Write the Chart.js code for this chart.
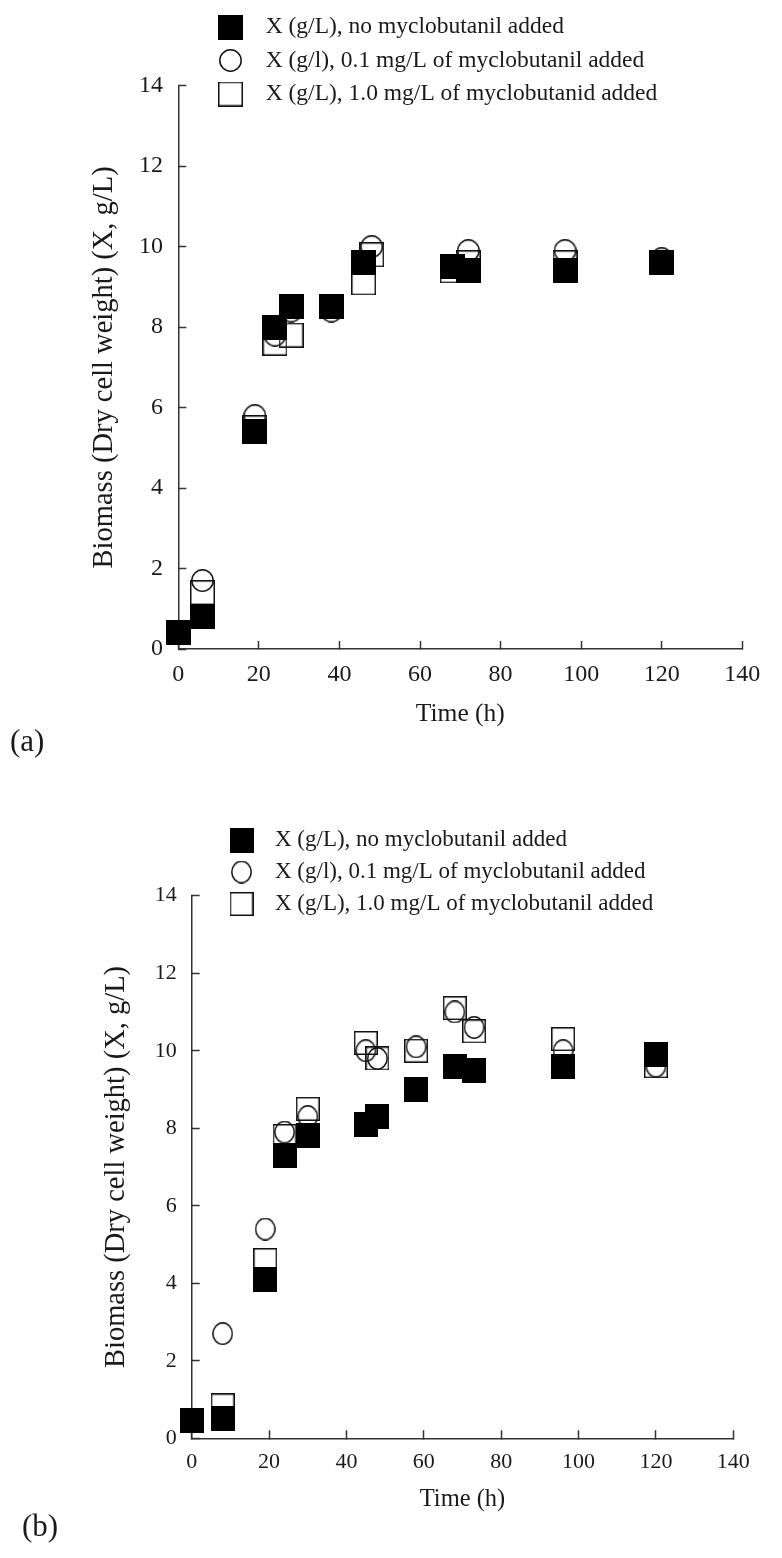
<!DOCTYPE html>
<html>
<head>
<meta charset="utf-8">
<script src="https://cdn.jsdelivr.net/npm/chart.js@4"></script>
<style>
  html, body { margin: 0; padding: 0; background: #fff; }
  .panel { position: absolute; left: 0; width: 782px; }
  #panelA { top: 0; height: 770px; }
  #panelB { top: 770px; height: 788px; }
</style>
</head>
<body>
<div class="panel" id="panelA"><canvas id="graficoA"></canvas></div>
<div class="panel" id="panelB"><canvas id="graficoB"></canvas></div>
<script>
// series labels
const labelNone = 'X (g/L), no myclobutanil added';
const labelLow = 'X (g/l), 0.1 mg/L of myclobutanil added';
const labelHighA = 'X (g/L), 1.0 mg/L of myclobutanid added';
const labelHighB = 'X (g/L), 1.0 mg/L of myclobutanil added';
const xTitle = 'Time (h)';
const yTitle = 'Biomass (Dry cell weight) (X, g/L)';

// axis ticks
const xTicks = [0, 20, 40, 60, 80, 100, 120, 140];
const yTicks = [0, 2, 4, 6, 8, 10, 12, 14];

// panel (a)
const timeANone = [0, 6, 19, 24, 28, 38, 46, 68, 72, 96, 120];
const bioANone = [0.4, 0.8, 5.4, 8.0, 8.5, 8.5, 9.6, 9.5, 9.4, 9.4, 9.6];
const timeALow = [0, 6, 19, 24, 28, 38, 48, 68, 72, 96, 120];
const bioALow = [0.4, 1.7, 5.8, 7.8, 8.4, 8.4, 10.0, 9.5, 9.9, 9.9, 9.7];
const timeAHigh = [0, 6, 19, 24, 28, 38, 46, 48, 68, 72, 96, 120];
const bioAHigh = [0.4, 1.4, 5.5, 7.6, 7.8, 8.5, 9.1, 9.8, 9.4, 9.6, 9.6, 9.6];

// panel (b)
const timeBNone = [0, 8, 19, 24, 30, 45, 48, 58, 68, 73, 96, 120];
const bioBNone = [0.45, 0.5, 4.1, 7.3, 7.8, 8.1, 8.3, 9.0, 9.6, 9.5, 9.6, 9.9];
const timeBLow = [0, 8, 19, 24, 30, 45, 48, 58, 68, 73, 96, 120];
const bioBLow = [0.45, 2.7, 5.4, 7.9, 8.3, 10.0, 9.8, 10.1, 11.0, 10.6, 10.0, 9.6];
const timeBHigh = [0, 8, 19, 24, 30, 45, 48, 58, 68, 73, 96, 120];
const bioBHigh = [0.45, 0.85, 4.6, 7.8, 8.5, 10.2, 9.8, 10.0, 11.1, 10.5, 10.3, 9.6];

Chart.defaults.font.family = "'Liberation Serif', 'DejaVu Serif', serif";
Chart.defaults.color = '#1a1a1a';

// marker images used as pointStyle
function marker(kind, w, h) {
  const c = document.createElement('canvas');
  c.width = w; c.height = h;
  const ctx = c.getContext('2d');
  ctx.fillStyle = '#000';
  ctx.strokeStyle = '#111';
  ctx.lineWidth = 1.5;
  if (kind === 'filled') {
    ctx.fillRect(0, 0, w, h);
  } else if (kind === 'square') {
    ctx.strokeRect(0.75, 0.75, w - 1.5, h - 1.5);
  } else {
    ctx.beginPath();
    ctx.ellipse(w / 2, h / 2, w / 2 - 0.8, h / 2 - 0.8, 0, 0, Math.PI * 2);
    ctx.stroke();
  }
  return c;
}

const toPoints = (t, v) => t.map((x, i) => ({ x, y: v[i] }));

// moves the built-in legend to its place above the plot
const legendPlace = {
  id: 'legendPlace',
  afterLayout(chart, args, opts) {
    const lg = chart.legend;
    if (!lg) return;
    lg.left = opts.left; lg.top = opts.top;
    lg.width = 560; lg.height = 200;
    lg.right = opts.left + 560; lg.bottom = opts.top + 200;
  }
};

function makeChart(id, p) {
  const axisColor = '#333';
  new Chart(document.getElementById(id), {
    type: 'scatter',
    data: {
      datasets: p.series.map(s => ({
        label: s.label,
        data: toPoints(s.t, s.v),
        pointStyle: s.style,
        clip: false
      }))
    },
    options: {
      responsive: true,
      maintainAspectRatio: false,
      animation: false,
      events: [],
      layout: { padding: p.pad },
      plugins: {
        legendPlace: p.legend,
        legend: {
          display: true,
          position: 'chartArea',
          align: 'start',
          labels: {
            usePointStyle: true,
            pointStyleWidth: p.legend.boxW,
            padding: p.legend.gap,
            color: '#1a1a1a',
            font: { size: p.legend.size }
          }
        },
        title: {
          display: true,
          text: p.tag,
          position: 'bottom',
          align: 'start',
          padding: 0,
          color: '#1a1a1a',
          font: { size: 31, weight: 'normal', lineHeight: 1 }
        },
        tooltip: { enabled: false }
      },
      scales: {
        x: {
          type: 'linear',
          position: 'bottom',
          min: xTicks[0],
          max: xTicks[xTicks.length - 1],
          afterBuildTicks: s => { s.ticks = xTicks.map(v => ({ value: v })); },
          afterFit: s => { s.height = p.xH; },
          ticks: { padding: p.xPad, color: '#1a1a1a', font: { size: p.tickSize } },
          grid: { drawOnChartArea: false, drawTicks: true, tickLength: -8, tickWidth: 1.5, tickColor: axisColor },
          border: { display: true, color: axisColor, width: 1.5 },
          title: {
            display: true, text: xTitle, color: '#1a1a1a',
            padding: { top: 0, bottom: 0 },
            font: { size: p.xTitleSize, lineHeight: 1 }
          }
        },
        y: {
          type: 'linear',
          min: yTicks[0],
          max: yTicks[yTicks.length - 1],
          afterBuildTicks: s => { s.ticks = yTicks.map(v => ({ value: v })); },
          afterFit: s => { s.width = p.yW; },
          ticks: { padding: p.yPad, color: '#1a1a1a', font: { size: p.tickSize } },
          grid: { drawOnChartArea: false, drawTicks: true, tickLength: -8, tickWidth: 1.5, tickColor: axisColor },
          border: { display: true, color: axisColor, width: 1.5 },
          title: {
            display: true, text: yTitle, color: '#1a1a1a',
            padding: { top: p.yTitlePad, bottom: 0 },
            font: { size: p.yTitleSize, lineHeight: 1 }
          }
        }
      }
    },
    plugins: [legendPlace]
  });
}

// panel (a)
makeChart('graficoA', {
  tag: '(a)',
  pad: { left: 10, top: 85.7, right: 39.7, bottom: 12 },
  xH: 78, yW: 168.3, xPad: 19.6, yPad: 23.3,
  tickSize: 24, xTitleSize: 25.5, yTitleSize: 28.5, yTitlePad: 80.75,
  legend: { left: 197.05, top: 5.25, size: 23.5, gap: 10, boxW: 46.9 },
  series: [
    { label: labelNone, t: timeANone, v: bioANone, style: marker('filled', 25, 25) },
    { label: labelLow, t: timeALow, v: bioALow, style: marker('circle', 23, 23) },
    { label: labelHighA, t: timeAHigh, v: bioAHigh, style: marker('square', 25, 25) }
  ]
});

// panel (b)
makeChart('graficoB', {
  tag: '(b)',
  pad: { left: 22, top: 125.7, right: 48.7, bottom: 15 },
  xH: 73.7, yW: 169.7, xPad: 18.4, yPad: 23,
  tickSize: 22, xTitleSize: 24.5, yTitleSize: 28.5, yTitlePad: 80.75,
  legend: { left: 210.5, top: 49.5, size: 23, gap: 9, boxW: 44 },
  series: [
    { label: labelNone, t: timeBNone, v: bioBNone, style: marker('filled', 24, 25) },
    { label: labelLow, t: timeBLow, v: bioBLow, style: marker('circle', 21, 23) },
    { label: labelHighB, t: timeBHigh, v: bioBHigh, style: marker('square', 24, 24) }
  ]
});
</script>
</body>
</html>
